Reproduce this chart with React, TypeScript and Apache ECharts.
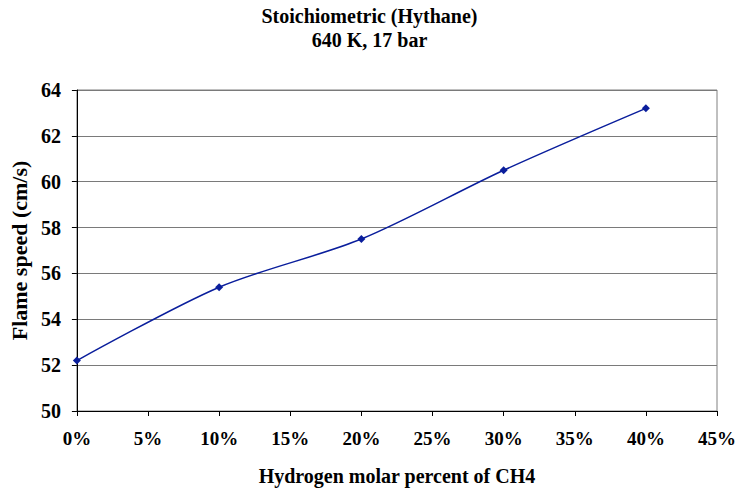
import React, { useEffect, useRef } from "react";
import * as echarts from "echarts";

const hydrogenPercent = [0, 10, 20, 30, 40];
const flameSpeed = [52.2, 55.4, 57.5, 60.5, 63.2];
const titleLines = ["Stoichiometric (Hythane)", "640 K, 17 bar"];
const xAxisName = "Hydrogen molar percent of CH4";
const yAxisName = "Flame speed (cm/s)";

const FONT = "'Liberation Serif', 'Times New Roman', serif";

export default function App() {
  const ref = useRef<HTMLDivElement>(null);
  useEffect(() => {
    if (!ref.current) return;
    const chart = echarts.init(ref.current, undefined, { renderer: "svg" });
    chart.setOption({
      animation: false,
      backgroundColor: "#ffffff",
      title: {
        text: titleLines.join("\n"),
        left: "center",
        top: -1,
        textStyle: {
          fontFamily: FONT,
          fontWeight: "bold",
          fontSize: 20,
          lineHeight: 24,
          color: "#000",
        },
      },
      grid: {
        left: 73,
        top: 90,
        right: 20,
        bottom: 80,
        show: true,
        borderColor: "#808080",
        borderWidth: 1,
        backgroundColor: "#ffffff",
      },
      xAxis: {
        type: "value",
        min: 0,
        max: 45,
        interval: 5,
        name: xAxisName,
        nameLocation: "middle",
        nameGap: 55,
        nameTextStyle: { fontFamily: FONT, fontWeight: "bold", fontSize: 20, color: "#000" },
        axisLine: { show: true, lineStyle: { color: "#000", width: 1 } },
        axisTick: { show: true, inside: false, length: 5, lineStyle: { color: "#000" } },
        axisLabel: {
          formatter: (v: number) => `${v}%`,
          fontFamily: FONT,
          fontWeight: "bold",
          fontSize: 19,
          color: "#000",
          margin: 18,
        },
        splitLine: { show: false },
      },
      yAxis: {
        type: "value",
        min: 50,
        max: 64,
        interval: 2,
        name: yAxisName,
        nameLocation: "middle",
        nameGap: 44,
        nameTextStyle: { fontFamily: FONT, fontWeight: "bold", fontSize: 22, color: "#000" },
        axisLine: { show: true, lineStyle: { color: "#000", width: 1 } },
        axisTick: { show: true, inside: false, length: 5, lineStyle: { color: "#000" } },
        axisLabel: {
          fontFamily: FONT,
          fontWeight: "bold",
          fontSize: 20,
          color: "#000",
          margin: 16,
        },
        splitLine: { show: true, lineStyle: { color: "#7a7a7a", width: 1 } },
      },
      series: [
        {
          type: "line",
          data: hydrogenPercent.map((x, i) => [x, flameSpeed[i]]),
          smooth: 0.3,
          symbol: "diamond",
          symbolSize: 8,
          lineStyle: { color: "#0a1e9c", width: 1.5 },
          itemStyle: { color: "#0a1e9c" },
        },
      ],
    });
    return () => chart.dispose();
  }, []);
  return <div ref={ref} style={{ width: 739, height: 491, position: "absolute", left: 0, top: 0 }} />;
}
